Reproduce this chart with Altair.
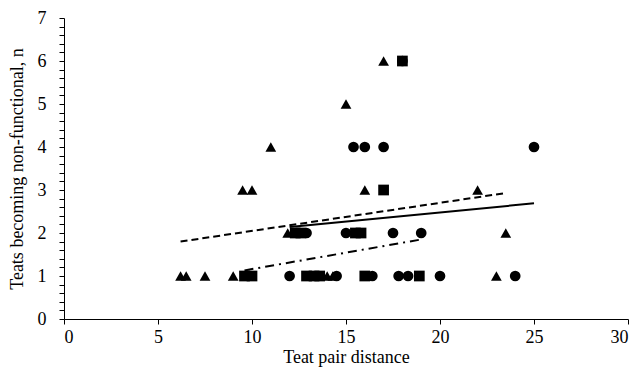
import altair as alt
import pandas as pd

# Scatter data (teat pair distance, teats becoming non-functional)
circle_x = [12, 14.5, 16.4, 17.8, 18.3, 20, 24, 12.9, 15, 17.5, 19, 15.4, 16, 17, 25, 18]
circle_y = [1, 1, 1, 1, 1, 1, 1, 2, 2, 2, 2, 4, 4, 4, 4, 6]
triangle_x = [6.2, 6.5, 7.5, 9.0, 14.0, 14.3, 23, 11.9, 23.5, 9.5, 10, 16, 22, 11, 15, 17]
triangle_y = [1, 1, 1, 1, 1, 1, 1, 2, 2, 3, 3, 3, 3, 4, 5, 6]
square_x = [9.6, 10.0, 12.9, 13.3, 13.6, 16.0, 18.9, 12.3, 12.6, 15.5, 15.8, 17, 18]
square_y = [1, 1, 1, 1, 1, 1, 1, 2, 2, 2, 2, 3, 6]

# Trend line endpoints
solid_x = [12, 25]
solid_y = [2.14, 2.69]
dashed_x = [6.2, 23.5]
dashed_y = [1.80, 2.93]
dashdot_x = [9.6, 19.0]
dashdot_y = [1.13, 1.85]

pts = pd.DataFrame({
    "x": circle_x + triangle_x + square_x,
    "y": circle_y + triangle_y + square_y,
    "g": ["circle"] * len(circle_x) + ["triangle"] * len(triangle_x) + ["square"] * len(square_x),
})

FONT = "Liberation Serif"
xscale = alt.Scale(domain=[0, 30], nice=False)
yscale = alt.Scale(domain=[0, 7], nice=False)

ytick_vals = [round(i * 0.2, 1) for i in range(0, 36)]

xaxis = alt.Axis(values=[0, 5, 10, 15, 20, 25, 30], title="Teat pair distance", grid=False,
                 tickSize=5, labelPadding=4, titlePadding=2)
yaxis = alt.Axis(values=ytick_vals, title="Teats becoming non-functional, n", grid=False,
                 tickSize=5, labelPadding=13, titlePadding=11, labelOverlap=False,
                 labelExpr="abs(datum.value - round(datum.value)) < 0.01 ? format(datum.value, 'd') : ''")

points = alt.Chart(pts).mark_point(filled=True, opacity=1, color="black", size=115).encode(
    x=alt.X("x:Q", scale=xscale, axis=xaxis),
    y=alt.Y("y:Q", scale=yscale, axis=yaxis),
    shape=alt.Shape("g:N", scale=alt.Scale(domain=["circle", "triangle", "square"],
                                            range=["circle", "triangle-up", "square"]), legend=None),
)

def line(xs, ys, dash):
    df = pd.DataFrame({"x": xs, "y": ys})
    kw = dict(color="black", strokeWidth=2)
    if dash:
        kw["strokeDash"] = dash
    return alt.Chart(df).mark_line(**kw).encode(
        x=alt.X("x:Q", scale=xscale, axis=xaxis), y=alt.Y("y:Q", scale=yscale, axis=yaxis))

chart = alt.layer(
    points,
    line(solid_x, solid_y, None),
    line(dashed_x, dashed_y, [7, 4]),
    line(dashdot_x, dashdot_y, [9, 5, 2, 5]),
).properties(
    width=564, height=301,
    background="white",
    autosize=alt.AutoSizeParams(type="none"),
    padding={"left": 56, "top": 10, "right": 3, "bottom": 50},
).configure_view(stroke=None).configure_axis(
    domainColor="black", tickColor="black", labelColor="black", titleColor="black",
    labelFont=FONT, titleFont=FONT, labelFontSize=18, titleFontSize=18,
    titleFontWeight="normal", domainWidth=1, tickWidth=1,
)

chart.save("out.html", embed_options={"renderer": "svg", "actions": False})
